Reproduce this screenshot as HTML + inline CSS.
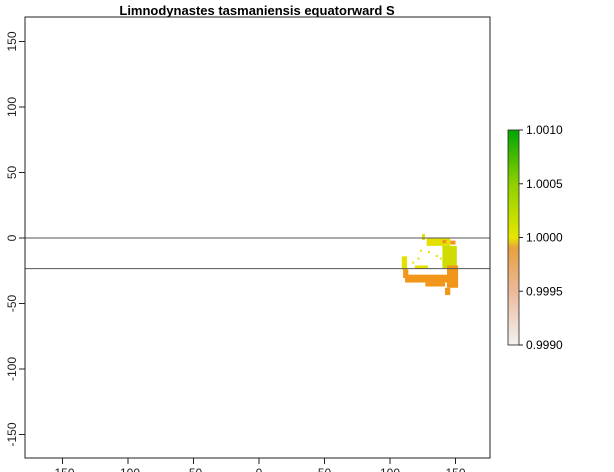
<!DOCTYPE html>
<html><head><meta charset="utf-8"><style>
body{margin:0;background:#fff}
svg{display:block;font-family:"Liberation Sans",Arial,sans-serif}
</style></head><body>
<svg width="614" height="472" viewBox="0 0 614 472">
<defs>
<linearGradient id="cb" x1="0" y1="1" x2="0" y2="0">
<stop offset="0" stop-color="#f2f2f2"/>
<stop offset="0.25" stop-color="#ecb99a"/>
<stop offset="0.45" stop-color="#e8a040"/>
<stop offset="0.5" stop-color="#e6e600"/>
<stop offset="0.75" stop-color="#8ed000"/>
<stop offset="1" stop-color="#00a600"/>
</linearGradient>
</defs>
<text x="257" y="15" text-anchor="middle" font-size="13" font-weight="bold">Limnodynastes tasmaniensis equatorward S</text>
<g id="cells"></g>
<line x1="25" y1="238" x2="490" y2="238" stroke="#555" stroke-width="1"/>
<line x1="25" y1="268.6" x2="490" y2="268.6" stroke="#555" stroke-width="1"/>
<rect x="25" y="17" width="465" height="441" fill="none" stroke="#222" stroke-width="1"/>
<g id="axes" font-size="12" fill="#222"></g>
<rect x="508" y="130" width="11" height="215" fill="url(#cb)" stroke="#222" stroke-width="0.8"/>
<g id="cbticks" font-size="12"></g>
</svg>
<script>
const xTicks=[-150,-100,-50,0,50,100,150];
const yTicks=[150,100,50,0,-50,-100,-150];
const cbTicks=[1.0010,1.0005,1.0000,0.9995,0.9990];
const cellLon0=[124.4,128,140,146,140,143.5,111.5,127,142,109,110,119,123,129,135,121,138,117];
const cellLon1=[126.7,146,143,150,151,152,144,142,146,113,114,129,124.5,130.5,136.5,122.5,139.5,118.5];
const cellLat0=[3,0,-1.5,-2,-6,-21,-28,-34,-38,-14,-24,-21,-9,-10,-13,-15,-15,-18];
const cellLat1=[-1.5,-6,-4,-5,-23,-38,-34,-37,-43.5,-24,-30.5,-23.5,-10.5,-11.5,-14.5,-16.5,-16.5,-19.5];
const cellVal=[1.0000,1.0000,0.9997,0.9997,1.00005,0.9997,0.9997,0.9997,0.9997,1.0000,0.9997,1.0000,1.0000,1.0000,1.0000,1.0000,1.0000,1.0000];
const sx=v=>259+v*1.31, sy=v=>238-v*1.31;
const cbY=v=>345-(v-0.999)/0.002*215;
function col(v){if(v>=1.0003)return '#8ed000';if(v>=1.00003)return '#cfdc00';if(v>=0.99985)return '#e4e000';return '#f2961a';}
const ns='http://www.w3.org/2000/svg';
const cells=document.getElementById('cells');
cellVal.forEach((v,i)=>{const r=document.createElementNS(ns,'rect');
r.setAttribute('x',sx(cellLon0[i]));r.setAttribute('width',sx(cellLon1[i])-sx(cellLon0[i]));
r.setAttribute('y',sy(cellLat0[i]));r.setAttribute('height',sy(cellLat1[i])-sy(cellLat0[i]));
r.setAttribute('fill',col(v));


cells.appendChild(r);});
const ax=document.getElementById('axes');
xTicks.forEach(t=>{const x=sx(t);const l=document.createElementNS(ns,'line');
l.setAttribute('x1',x);l.setAttribute('x2',x);l.setAttribute('y1',458);l.setAttribute('y2',464);l.setAttribute('stroke','#222');


ax.appendChild(l);
const tx=document.createElementNS(ns,'text');tx.setAttribute('x',x);tx.setAttribute('y',477);tx.setAttribute('text-anchor','middle');tx.textContent=t;


ax.appendChild(tx);});
yTicks.forEach(t=>{const y=sy(t);const l=document.createElementNS(ns,'line');
l.setAttribute('x1',19);l.setAttribute('x2',25);l.setAttribute('y1',y);l.setAttribute('y2',y);l.setAttribute('stroke','#222');


ax.appendChild(l);
const tx=document.createElementNS(ns,'text');tx.setAttribute('transform','translate(16,'+y+') rotate(-90)');tx.setAttribute('text-anchor','middle');tx.textContent=t;


ax.appendChild(tx);});
const cb=document.getElementById('cbticks');
cbTicks.forEach(t=>{const y=cbY(t);const l=document.createElementNS(ns,'line');
l.setAttribute('x1',519);l.setAttribute('x2',523);l.setAttribute('y1',y);l.setAttribute('y2',y);l.setAttribute('stroke','#222');


cb.appendChild(l);
const tx=document.createElementNS(ns,'text');tx.setAttribute('x',526);tx.setAttribute('y',y+4);tx.textContent=t.toFixed(4);


cb.appendChild(tx);});
</script>
</body></html>
